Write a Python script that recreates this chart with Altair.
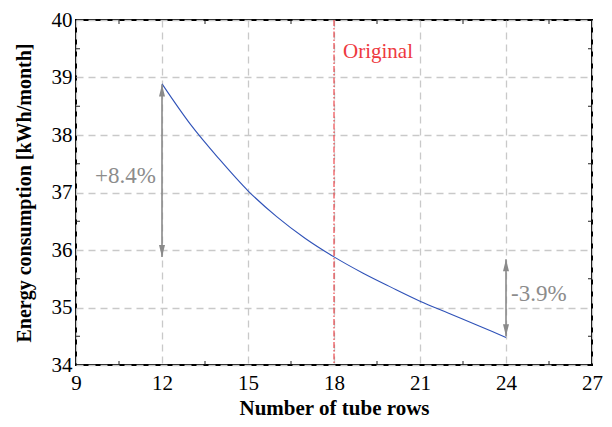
import altair as alt
import pandas as pd

# ---- data ----
rows = [12, 13, 14, 15, 16, 17, 18, 19, 20, 21, 22, 23, 24]
energy = [38.89, 38.18, 37.58, 37.03, 36.58, 36.20, 35.88, 35.60, 35.35, 35.11, 34.90, 34.69, 34.48]

x_ticks = [9, 12, 15, 18, 21, 24, 27]
y_ticks = [34, 35, 36, 37, 38, 39, 40]
x_minor = [10.5, 13.5, 16.5, 19.5, 22.5, 25.5]
y_minor = [34.5, 35.5, 36.5, 37.5, 38.5, 39.5]

original_x = [18]
original_label = ["Original"]
original_label_y = [39.45]

arrow_x = [12, 24]
arrow_top = [38.88, 35.84]
arrow_bottom = [35.88, 34.50]

pct_labels = ["+8.4%", "-3.9%"]
pct_x = [12, 24]
pct_y = [37.28, 35.24]

W, H = 516, 345
FONT = "Liberation Serif"

curve_df = pd.DataFrame({"rows": rows, "energy": energy})
xminor_df = pd.DataFrame({"v": x_minor})
yminor_df = pd.DataFrame({"v": y_minor})
orig_df = pd.DataFrame({"x": original_x, "label": original_label, "y": original_label_y})
arrow_df = pd.DataFrame({"x": arrow_x, "top": arrow_top, "bottom": arrow_bottom})
pct_df = pd.DataFrame({"x": pct_x, "y": pct_y, "label": pct_labels})

xscale = alt.Scale(domain=[9, 27], nice=False, zero=False)
yscale = alt.Scale(domain=[34, 40], nice=False, zero=False)

axis_common = dict(grid=True, gridDash=[7, 5], gridColor="#c9c9c9", gridWidth=1.3,
                   ticks=False, domain=False, format="d", labelFlush=False,
                   labelFont=FONT, labelFontSize=21, labelColor="black",
                   titleFont=FONT, titleFontWeight="bold", titleColor="black")
xaxis = alt.Axis(values=x_ticks, title="Number of tube rows", labelPadding=7, titlePadding=4,
                 titleFontSize=21, **axis_common)
yaxis = alt.Axis(values=y_ticks, title="Energy consumption [kWh/month]", labelPadding=4,
                 titlePadding=17, titleFontSize=20, **axis_common)

curve = alt.Chart(curve_df).mark_line(color="#2f52b8", strokeWidth=1.1, interpolate="monotone").encode(
    x=alt.X("rows:Q", scale=xscale, axis=xaxis),
    y=alt.Y("energy:Q", scale=yscale, axis=yaxis),
)

orig_line = alt.Chart(orig_df).mark_rule(color="#e8252b", strokeWidth=1, strokeDash=[6, 2, 1.5, 2]).encode(
    x=alt.X("x:Q", scale=xscale), y=alt.value(0), y2=alt.value(H)
)
orig_text = alt.Chart(orig_df).mark_text(color="#ee3a3f", font=FONT, fontSize=21, align="left",
                                         baseline="middle", dx=9).encode(
    x=alt.X("x:Q", scale=xscale), y=alt.Y("y:Q", scale=yscale), text="label:N"
)

shaft = alt.Chart(arrow_df).mark_rule(color="#8a8a8a", strokeWidth=1.6).encode(
    x=alt.X("x:Q", scale=xscale), y=alt.Y("top:Q", scale=yscale), y2="bottom:Q"
)
head_up = alt.Chart(arrow_df).mark_point(shape="M0,0L0.5,2L-0.5,2Z", filled=True, size=144,
                                         color="#8a8a8a", opacity=1).encode(
    x=alt.X("x:Q", scale=xscale), y=alt.Y("top:Q", scale=yscale)
)
head_down = alt.Chart(arrow_df).mark_point(shape="M0,0L0.5,-2L-0.5,-2Z", filled=True, size=144,
                                           color="#8a8a8a", opacity=1).encode(
    x=alt.X("x:Q", scale=xscale), y=alt.Y("bottom:Q", scale=yscale)
)

pct_left = alt.Chart(pct_df).transform_filter(alt.datum.x < 18).mark_text(
    color="#8c8c8c", font=FONT, fontSize=23, align="right", baseline="middle", dx=-6).encode(
    x=alt.X("x:Q", scale=xscale), y=alt.Y("y:Q", scale=yscale), text="label:N"
)
pct_right = alt.Chart(pct_df).transform_filter(alt.datum.x > 18).mark_text(
    color="#8c8c8c", font=FONT, fontSize=23, align="left", baseline="middle", dx=5).encode(
    x=alt.X("x:Q", scale=xscale), y=alt.Y("y:Q", scale=yscale), text="label:N"
)

tick_color = "#222222"
xt_bottom = alt.Chart(xminor_df).mark_rule(color=tick_color, strokeWidth=1).encode(
    x=alt.X("v:Q", scale=xscale), y=alt.value(H - 4), y2=alt.value(H))
xt_top = alt.Chart(xminor_df).mark_rule(color=tick_color, strokeWidth=1).encode(
    x=alt.X("v:Q", scale=xscale), y=alt.value(0), y2=alt.value(4))
yt_left = alt.Chart(yminor_df).mark_rule(color=tick_color, strokeWidth=1).encode(
    y=alt.Y("v:Q", scale=yscale), x=alt.value(0), x2=alt.value(4))
yt_right = alt.Chart(yminor_df).mark_rule(color=tick_color, strokeWidth=1).encode(
    y=alt.Y("v:Q", scale=yscale), x=alt.value(W - 4), x2=alt.value(W))

chart = alt.layer(
    curve, orig_line, shaft, head_up, head_down, orig_text, pct_left, pct_right,
    xt_bottom, xt_top, yt_left, yt_right
).properties(
    width=W, height=H,
    background="white",
    autosize=alt.AutoSizeParams(type="none"),
    padding={"left": 68, "top": 12, "right": 12, "bottom": 54},
).configure_view(
    stroke="black", strokeWidth=2
)

chart.save("out.html", embed_options={"renderer": "svg", "actions": False})
